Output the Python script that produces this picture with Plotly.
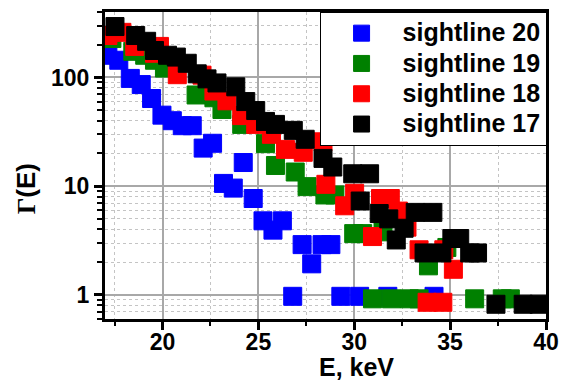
import math
import plotly.graph_objects as go

# ---- data (E in keV, Gamma(E)) ----
e_s20 = [17.15, 17.72, 18.32, 18.89, 19.43, 19.97, 20.51, 21.03, 21.55, 22.12, 22.61, 23.18, 23.69,
         24.21, 24.73, 25.24, 25.76, 26.25, 26.79, 27.28, 27.78, 28.32, 28.78, 29.30, 30.28, 31.75, 34.16]
g_s20 = [160, 144, 98, 86, 64, 45, 40, 36, 36, 22.4, 24.8, 10.6, 9.6,
         16.5, 7.7, 4.8, 3.94, 4.8, 0.97, 2.9, 1.93, 2.9, 2.9, 0.97, 0.97, 0.97, 0.97]

e_s19 = [17.36, 18.45, 19.07, 19.58, 20.10, 21.75, 22.68, 23.10, 24.13, 25.37, 25.89, 26.92, 27.54,
         28.47, 28.99, 29.97, 30.44, 30.95, 31.50, 31.94, 32.87, 33.38, 33.87, 34.83, 36.28, 37.72, 38.14]
g_s19 = [228, 174, 160, 144, 122, 69, 65, 50.7, 37, 24.6, 15.5, 13.5, 9.9,
         8.3, 8.3, 3.66, 3.66, 0.92, 3.8, 0.92, 0.92, 0.92, 1.85, 2.73, 0.92, 0.92, 0.92]

e_s18 = [17.15, 17.88, 18.55, 19.58, 19.84, 20.77, 22.06, 22.68, 23.36, 24.13, 24.86, 25.68, 26.41,
         27.34, 28.37, 28.52, 29.50, 30.02, 30.95, 31.37, 31.88, 32.30, 32.75, 33.38, 33.80, 34.62, 34.67, 35.17]
g_s18 = [243, 260, 193, 167, 193, 106, 105, 75, 61, 44.6, 37, 30, 21.8,
         20.5, 25.6, 10.4, 6.6, 8.6, 3.44, 7.7, 7.7, 5.9, 4.2, 2.6, 0.855, 0.855, 2.6, 1.72]

e_s17 = [17.52, 18.60, 19.17, 19.58, 20.26, 20.72, 21.29, 21.81, 22.32, 22.84, 23.82, 24.34, 24.86,
         25.37, 25.89, 26.82, 27.44, 28.37, 28.88, 29.92, 30.31, 30.80, 31.30, 31.80, 32.19, 32.60,
         33.18, 33.64, 34.10, 34.57, 35.09, 35.50, 36.02, 36.43, 37.39, 38.81, 39.64]
g_s17 = [294, 243, 215, 177, 160, 154, 135, 108, 97, 89, 82, 60, 49.6,
         39.4, 37, 32.6, 27, 18, 15, 13, 7.3, 13, 5.6, 5.0, 3.2, 4.1,
         5.74, 2.43, 5.74, 2.43, 3.3, 3.3, 2.43, 2.43, 0.82, 0.82, 0.82]

series_names = ["sightline 20", "sightline 19", "sightline 18", "sightline 17"]
series_colors = ["#0000ff", "#008000", "#ff0000", "#000000"]
series_e = [e_s20, e_s19, e_s18, e_s17]
series_g = [g_s20, g_s19, g_s18, g_s17]

x_ticks = [20, 25, 30, 35, 40]
y_ticks = [1, 10, 100]
y_minor = [0.6, 0.7, 0.8, 0.9] + [v * m for m in (1, 10, 100) for v in range(2, 10) if v * m <= 400]

FONT = "Arial, Liberation Sans, sans-serif"

fig = go.Figure()
for name, col, ex, gy in zip(series_names, series_colors, series_e, series_g):
    fig.add_trace(go.Scatter(
        x=ex, y=gy, mode="markers",
        name='<span style="font-size:25px">' + name + '</span>',
        marker=dict(symbol="square", size=18, color=col, line=dict(color=col, width=1)),
    ))

axis_common = dict(
    showline=True, linewidth=3, linecolor="black", mirror=True,
    ticks="outside", ticklen=8, tickwidth=3, tickcolor="black",
    showgrid=True, gridcolor="#a8a8a8", gridwidth=1.5, zeroline=False,
    tickfont=dict(family=FONT, size=23, color="black", weight="bold"),
)

fig.update_layout(
    width=568, height=385,
    margin=dict(l=105, r=17, t=9, b=66),
    plot_bgcolor="white", paper_bgcolor="white",
    showlegend=True,
    legend=dict(
        x=(322 - 105) / 446, y=1, xanchor="left", yanchor="top",
        bgcolor="white", bordercolor="black", borderwidth=1,
        font=dict(family=FONT, size=21, color="black", weight="bold"),
        itemwidth=72,
    ),
    xaxis=dict(
        range=[17, 40], tickmode="array", tickvals=x_ticks, ticklabelstandoff=-8,
        minor=dict(tickmode="linear", tick0=0, dtick=2.5, ticks="outside", ticklen=4, tickwidth=2,
                   tickcolor="black", showgrid=True, griddash="dot", gridcolor="#c4c4c4", gridwidth=1),
        **axis_common,
    ),
    yaxis=dict(
        type="log", range=[math.log10(0.6), math.log10(400)],
        tickmode="array", tickvals=y_ticks, ticktext=[str(v) for v in y_ticks],
        minor=dict(tickmode="array", tickvals=y_minor, ticks="outside", ticklen=5, tickwidth=2,
                   tickcolor="black", showgrid=True, griddash="dot", gridcolor="#c4c4c4", gridwidth=1),
        **axis_common,
    ),
    annotations=[
        dict(text="E, keV", xref="paper", yref="paper", x=(359.5 - 105) / 446, y=(319 - 367) / 310,
             xanchor="center", yanchor="middle", showarrow=False,
             font=dict(family=FONT, size=25, color="black", weight="bold")),
        dict(text='<span style="font-family:Liberation Serif,Times New Roman,serif">Γ</span>(E)',
             xref="paper", yref="paper", x=(25 - 105) / 446, y=(319 - 187) / 310,
             xanchor="center", yanchor="middle", textangle=-90, showarrow=False,
             font=dict(family=FONT, size=26, color="black", weight="bold")),
    ],
)

fig.write_html("out.html")
